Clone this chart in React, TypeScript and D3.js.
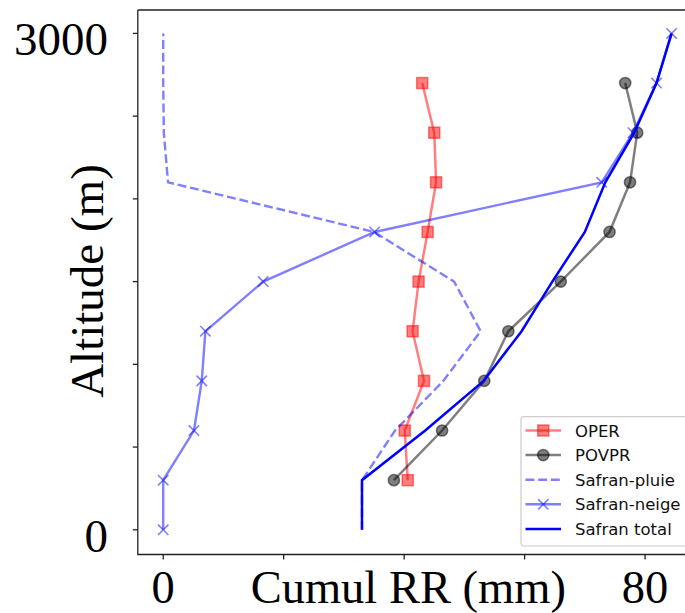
import React from "react";
import * as d3 from "d3";

// ---- Data ----
const obsAltitudes = [300, 600, 900, 1200, 1500, 1800, 2100, 2400, 2700];
const operValues = [40.6, 40.1, 43.3, 41.4, 42.4, 43.9, 45.3, 45.0, 43.0];
const povprValues = [38.3, 46.3, 53.3, 57.3, 66.0, 74.1, 77.5, 78.7, 76.7];

const safranAltitudes = [0, 300, 600, 900, 1200, 1500, 1800, 2100, 2400, 2700, 3000];
const safranPluie = [33.0, 33.0, 38.5, 46.5, 52.7, 48.3, 35.0, 0.8, 0.1, 0.0, 0.0];
const safranNeige = [0.0, 0.0, 5.1, 6.4, 7.0, 16.6, 35.1, 72.8, 78.0, 81.9, 84.4];
const safranTotal = [33.0, 33.0, 43.5, 53.2, 59.5, 64.6, 70.0, 73.4, 78.2, 81.9, 84.4];

const xTicks = [0, 20, 40, 60, 80];
const xTickLabels = ["0", "", "", "", "80"];
const yTicks = [0, 500, 1000, 1500, 2000, 2500, 3000];
const yTickLabels = ["0", "", "", "", "", "", "3000"];

const legendLabels = ["OPER", "POVPR", "Safran-pluie", "Safran-neige", "Safran total"];

const W = 685;
const H = 613;
const frameLeft = 137.8;
const frameTop = 10;
const frameBottom = 554.5;
const frameRight = 697;

const SERIF = "'Liberation Serif', 'Times New Roman', serif";
const SANS = "'DejaVu Sans', sans-serif";

export default function App() {
  const x = d3.scaleLinear().domain([-4.22, 88.62]).range([frameLeft, frameRight]);
  const y = d3.scaleLinear().domain([0, 3000]).range([529.8, 33.4]);

  const line = d3
    .line<[number, number]>()
    .x((d) => x(d[0]))
    .y((d) => y(d[1]));

  const pts = (vals: number[], alts: number[]) =>
    vals.map((v, i) => [v, alts[i]] as [number, number]);

  const oper = pts(operValues, obsAltitudes);
  const povpr = pts(povprValues, obsAltitudes);
  const pluie = pts(safranPluie, safranAltitudes);
  const neige = pts(safranNeige, safranAltitudes);
  const total = pts(safranTotal, safranAltitudes);

  const sq = 11;
  const rc = 5.6;
  const xs = 5.2;

  const squareMarker = (cx: number, cy: number, key: any) => (
    <rect
      key={key}
      x={cx - sq / 2}
      y={cy - sq / 2}
      width={sq}
      height={sq}
      fill="red"
      fillOpacity={0.5}
      stroke="red"
      strokeOpacity={0.5}
      strokeWidth={1.5}
    />
  );
  const circleMarker = (cx: number, cy: number, key: any) => (
    <circle
      key={key}
      cx={cx}
      cy={cy}
      r={rc}
      fill="black"
      fillOpacity={0.5}
      stroke="black"
      strokeOpacity={0.5}
      strokeWidth={1.5}
    />
  );
  const xMarker = (cx: number, cy: number, key: any) => (
    <path
      key={key}
      d={`M${cx - xs},${cy - xs}L${cx + xs},${cy + xs}M${cx - xs},${cy + xs}L${cx + xs},${cy - xs}`}
      stroke="blue"
      strokeOpacity={0.5}
      strokeWidth={1.6}
      fill="none"
    />
  );

  // legend layout
  const legX = 521;
  const legY = 416.7;
  const legW = 168;
  const legH = 129.3;
  const rowY0 = 430.5;
  const rowStep = 24.6;
  const hx0 = 525.5;
  const hx1 = 561;
  const hmid = (hx0 + hx1) / 2;
  const textX = 575;

  const labelBaseline = 602.5;

  return (
    <svg
      width={W}
      height={H}
      style={{ position: "absolute", left: 0, top: 0, background: "white" }}
    >
      <rect x={0} y={0} width={W} height={H} fill="white" />

      {/* OPER */}
      <path d={line(oper) || ""} fill="none" stroke="red" strokeOpacity={0.5} strokeWidth={2.5} />
      {oper.map((d, i) => squareMarker(x(d[0]), y(d[1]), "o" + i))}

      {/* POVPR */}
      <path d={line(povpr) || ""} fill="none" stroke="black" strokeOpacity={0.5} strokeWidth={2.5} />
      {povpr.map((d, i) => circleMarker(x(d[0]), y(d[1]), "p" + i))}

      {/* Safran-pluie */}
      <path
        d={line(pluie) || ""}
        fill="none"
        stroke="blue"
        strokeOpacity={0.5}
        strokeWidth={2.4}
        strokeDasharray="8.9,3.8"
      />

      {/* Safran-neige */}
      <path d={line(neige) || ""} fill="none" stroke="blue" strokeOpacity={0.5} strokeWidth={2.4} />
      {neige.map((d, i) => xMarker(x(d[0]), y(d[1]), "n" + i))}

      {/* Safran total */}
      <path d={line(total) || ""} fill="none" stroke="blue" strokeWidth={2.5} />

      {/* frame */}
      <path
        d={`M${frameLeft},${frameTop}L${frameLeft},${frameBottom}L${W + 5},${frameBottom}M${frameLeft},${frameTop}L${W + 5},${frameTop}`}
        fill="none"
        stroke="#222"
        strokeWidth={1.3}
      />

      {/* x ticks */}
      {xTicks.map((t, i) => (
        <g key={"xt" + i}>
          <line x1={x(t)} x2={x(t)} y1={frameBottom} y2={frameBottom + 5} stroke="#222" strokeWidth={1.3} />
          {xTickLabels[i] && (
            <text x={x(t)} y={labelBaseline} textAnchor="middle" fontFamily={SERIF} fontSize={46.5} fill="black">
              {xTickLabels[i]}
            </text>
          )}
        </g>
      ))}

      {/* y ticks */}
      {yTicks.map((t, i) => (
        <g key={"yt" + i}>
          <line x1={frameLeft - 5} x2={frameLeft} y1={y(t)} y2={y(t)} stroke="#222" strokeWidth={1.3} />
          {yTickLabels[i] && (
            <text x={108} y={y(t) + 21.7} textAnchor="end" fontFamily={SERIF} fontSize={47} fill="black">
              {yTickLabels[i]}
            </text>
          )}
        </g>
      ))}

      {/* axis labels */}
      <text x={408.3} y={labelBaseline} textAnchor="middle" fontFamily={SERIF} fontSize={46.5} fill="black">
        Cumul RR (mm)
      </text>
      <text
        transform={`translate(103,281) rotate(-90)`}
        textAnchor="middle"
        fontFamily={SERIF}
        fontSize={47}
        fill="black"
      >
        Altitude (m)
      </text>

      {/* legend */}
      <rect
        x={legX}
        y={legY}
        width={legW}
        height={legH}
        rx={3}
        fill="white"
        fillOpacity={0.8}
        stroke="#cccccc"
        strokeWidth={1.2}
      />
      {legendLabels.map((lab, i) => {
        const cy = rowY0 + i * rowStep;
        let handle: React.ReactNode = null;
        if (i === 0) {
          handle = (
            <g>
              <line x1={hx0} x2={hx1} y1={cy} y2={cy} stroke="red" strokeOpacity={0.5} strokeWidth={2.5} />
              {squareMarker(hmid, cy, "ls")}
            </g>
          );
        } else if (i === 1) {
          handle = (
            <g>
              <line x1={hx0} x2={hx1} y1={cy} y2={cy} stroke="black" strokeOpacity={0.5} strokeWidth={2.5} />
              {circleMarker(hmid, cy, "lc")}
            </g>
          );
        } else if (i === 2) {
          handle = (
            <line
              x1={hx0}
              x2={hx1}
              y1={cy}
              y2={cy}
              stroke="blue"
              strokeOpacity={0.5}
              strokeWidth={2.4}
              strokeDasharray="8.9,3.8"
            />
          );
        } else if (i === 3) {
          handle = (
            <g>
              <line x1={hx0} x2={hx1} y1={cy} y2={cy} stroke="blue" strokeOpacity={0.5} strokeWidth={2.4} />
              {xMarker(hmid, cy, "lx")}
            </g>
          );
        } else {
          handle = <line x1={hx0} x2={hx1} y1={cy} y2={cy} stroke="blue" strokeWidth={2.5} />;
        }
        return (
          <g key={"leg" + i}>
            {handle}
            <text x={textX} y={cy + 6} fontFamily={SANS} fontSize={16.5} fill="#111">
              {lab}
            </text>
          </g>
        );
      })}
    </svg>
  );
}
